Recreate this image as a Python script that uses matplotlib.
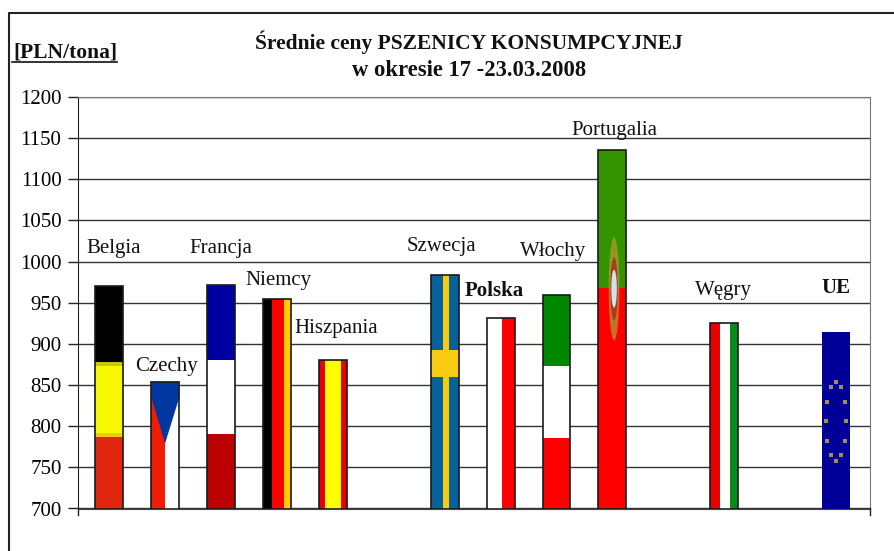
import matplotlib
matplotlib.use('Agg')
import matplotlib.pyplot as plt
from matplotlib.patches import Ellipse
import numpy as np

plt.rcParams['font.family'] = ['Liberation Serif', 'DejaVu Serif']

# position on the category axis, 14 slots with 3 left empty
positions = [0, 1, 2, 3, 4, 6, 7, 8, 9, 11, 13]
countries = ['Belgia', 'Czechy', 'Francja', 'Niemcy', 'Hiszpania', 'Szwecja',
             'Polska', 'Włochy', 'Portugalia', 'Węgry', 'UE']
prices = [970, 854, 972, 954, 881, 984, 931, 960, 1136, 925, 914]

# flag stripes: upper limits of the horizontal bands in PLN/tona
belgia_tops = [787, 792, 873, 878, 970]
belgia_cols = ['#e0260f', '#eccb10', '#f7f700', '#c8c810', '#000000']
francja_tops = [791, 881, 972]
francja_cols = ['#bb0000', '#ffffff', '#0000a0']
wlochy_tops = [786, 873, 960]
wlochy_cols = ['#ff0000', '#ffffff', '#008800']
portugalia_tops = [968, 1136]
portugalia_cols = ['#ff0000', '#339400']

# vertical stripes: share of the bar width
niemcy_parts = [0.33, 0.40, 0.27]
niemcy_cols = ['#000000', '#ff0000', '#ffcc00']
hiszpania_parts = [0.2, 0.6, 0.2]
hiszpania_cols = ['#e80000', '#ffff00', '#e80000']
polska_parts = [0.56, 0.44]
polska_cols = ['#ffffff', '#ff0000']
wegry_parts = [0.36, 0.36, 0.28]
wegry_cols = ['#e60000', '#ffffff', '#0a8a1a']
szwecja_parts = [0.42, 0.24, 0.34]
szwecja_cols = ['#066299', '#f7cb12', '#066299']
czechy_parts = [0.49, 0.51]
czechy_cols = ['#f01c05', '#ffffff']

yticks = [700, 750, 800, 850, 900, 950, 1000, 1050, 1100, 1150, 1200]
W = 0.5
EDGE = '#1a1a1a'


def hbands(ax, x, tops, cols):
    low = 700
    for t, c in zip(tops, cols):
        ax.bar(x, t - low, W, bottom=low, color=c, linewidth=0, zorder=3)
        low = t


def vbands(ax, x, top, parts, cols):
    left = x - W / 2
    for p, c in zip(parts, cols):
        ax.bar(left, top - 700, W * p, bottom=700, align='edge', color=c,
               linewidth=0, zorder=3)
        left += W * p


fig = plt.figure(figsize=(8.95, 5.51), dpi=100)
ax = fig.add_axes([77.5 / 895, 1 - 508.5 / 551, (870 - 77.5) / 895, (508.5 - 97) / 551])
ax.set_xlim(-0.572, 13.61)
ax.set_ylim(700, 1200)

ax.yaxis.grid(True, color='#333333', lw=1, zorder=1)
ax.set_axisbelow(True)
ax.set_yticks(yticks)
ax.tick_params(axis='y', length=7, width=1, color='#222222', labelsize=15, pad=4.5)
ax.set_xticks([])
for s in ['top', 'right', 'bottom']:
    ax.spines[s].set_color('#777777')
ax.spines['left'].set_color('#222222')
ax.spines['bottom'].set_color('#444444')

hbands(ax, 0, belgia_tops, belgia_cols)
hbands(ax, 2, francja_tops, francja_cols)
hbands(ax, 8, wlochy_tops, wlochy_cols)
hbands(ax, 9, portugalia_tops, portugalia_cols)
vbands(ax, 3, prices[3], niemcy_parts, niemcy_cols)
vbands(ax, 4, prices[4], hiszpania_parts, hiszpania_cols)
vbands(ax, 6, prices[5], szwecja_parts, szwecja_cols)
ax.bar(6, 33, W, bottom=860, color='#f7cb12', linewidth=0, zorder=3.1)
vbands(ax, 7, prices[6], polska_parts, polska_cols)
vbands(ax, 11, prices[9], wegry_parts, wegry_cols)

# Czechy: red/white halves with the blue wedge on top
vbands(ax, 1, prices[1], czechy_parts, czechy_cols)
ax.fill([0.75, 1.25, 1.25, 0.995, 0.75], [854, 854, 835, 779, 835], color='#0038a0',
        linewidth=0, zorder=3.1)

# Portugalia coat of arms
for h, w, c, a in [(125, 0.19, '#b09a30', 0.75), (77, 0.13, '#b03020', 0.9), (46, 0.10, '#cfe0f5', 1)]:
    ax.add_patch(Ellipse((9.03, 967), w, h, color=c, linewidth=0, zorder=3.2, alpha=a))

# UE: blue bar with ring of stars
ax.bar(13, prices[10] - 700, W, bottom=700, color='#000099', linewidth=0, zorder=3)
angle = np.arange(12) * np.pi / 6
ax.scatter(13 + 0.18 * np.sin(angle), 806 + 48 * np.cos(angle), s=6, marker='s',
           color='#a58c55', linewidth=0, zorder=3.2)

# outlines, UE has none
for x, v in zip(positions[:-1], prices[:-1]):
    ax.bar(x, v - 700, W, bottom=700, facecolor='none', edgecolor=EDGE, linewidth=1.2,
           zorder=3.5)

# country names, placed by hand as in the original
label_xy = [(114, 248), (167, 367), (221, 248), (278, 280), (336, 328), (441, 247),
            (494, 291), (553, 252), (614, 130), (723, 290), (836, 288)]
for name, (px, py) in zip(countries, label_xy):
    bold = name in ('Polska', 'UE')
    fig.text(px / 895, 1 - py / 551, name, ha='center', va='center', fontsize=15,
             fontweight='bold' if bold else 'normal', color='#111111')

fig.text(469 / 895, 1 - 42 / 551, 'Średnie ceny PSZENICY KONSUMPCYJNEJ', ha='center',
         va='center', fontsize=15.5, fontweight='bold', color='#111111')
fig.text(469 / 895, 1 - 71 / 551, 'w okresie 17 -23.03.2008', ha='center', va='center',
         fontsize=16.3, fontweight='bold', color='#111111')
fig.text(13 / 895, 1 - 52 / 551, '[PLN/tona]', ha='left', va='center', fontsize=15.5,
         fontweight='bold', color='#111111')
fig.add_artist(plt.Line2D([12.5 / 895, 117 / 895], [1 - 61.5 / 551] * 2, color='#111111', lw=1.2))

# outer frame, open on the right and at the bottom
fig.add_artist(plt.Line2D([9.5 / 895, 9.5 / 895, 1], [0, 1 - 12.5 / 551, 1 - 12.5 / 551],
                          color='#222222', lw=1.5))

# stub of the left axis and right axis under the plot
fig.add_artist(plt.Line2D([77.5 / 895] * 2, [1 - 515 / 551, 1 - 508 / 551], color='#222222', lw=1))
fig.add_artist(plt.Line2D([870 / 895] * 2, [1 - 515 / 551, 1 - 508 / 551], color='#222222', lw=1))

fig.savefig('out.png', dpi=100)
